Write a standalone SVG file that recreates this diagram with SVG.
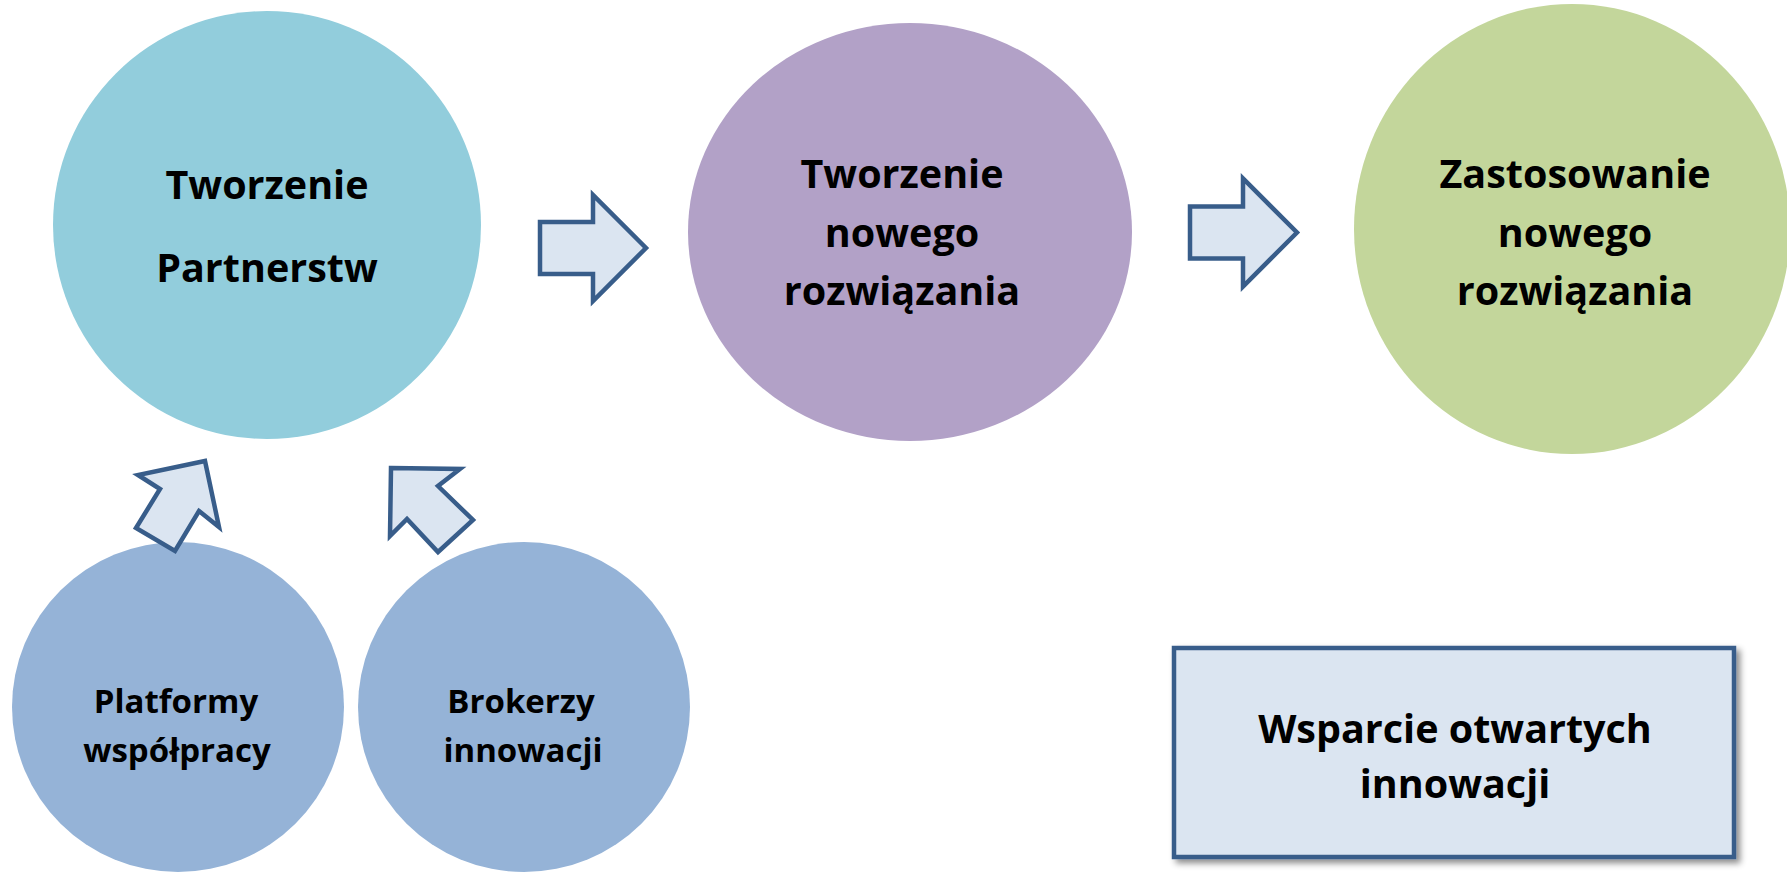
<svg xmlns="http://www.w3.org/2000/svg" width="1787" height="872" viewBox="0 0 1787 872">
<style>
.t{font-family:"Open Sans","Liberation Sans",sans-serif;font-weight:700;fill:#000;text-anchor:middle}
.big{font-size:39.5px}
.sm{font-size:33px}
.bx{font-size:39.5px}
.arr{fill:#dbe5f1;stroke:#385d8a;stroke-width:4.5;stroke-linejoin:miter}
</style>
<defs>
<filter id="sh" x="-10%" y="-10%" width="130%" height="130%">
<feDropShadow dx="4" dy="4" stdDeviation="3" flood-color="#000" flood-opacity="0.45"/>
</filter>
</defs>
<rect width="1787" height="872" fill="#fff"/>
<g id="n1">
<ellipse cx="267" cy="225" rx="214" ry="214" fill="#92cddc"/>
<text class="t big" x="267" y="199">Tworzenie</text>
<text class="t big" x="267" y="282">Partnerstw</text>
</g>
<g id="n2">
<ellipse cx="910" cy="232" rx="222" ry="209" fill="#b2a1c7"/>
<text class="t big" x="902" y="188">Tworzenie</text>
<text class="t big" x="902" y="247">nowego</text>
<text class="t big" x="902" y="305">rozwiązania</text>
</g>
<g id="n3">
<ellipse cx="1572" cy="229" rx="218" ry="225" fill="#c3d69b"/>
<text class="t big" x="1575" y="188">Zastosowanie</text>
<text class="t big" x="1575" y="247">nowego</text>
<text class="t big" x="1575" y="305">rozwiązania</text>
</g>
<g id="n4">
<ellipse cx="178" cy="707" rx="166" ry="165" fill="#95b3d7"/>
<text class="t sm" x="176" y="713">Platformy</text>
<text class="t sm" x="177" y="762">współpracy</text>
</g>
<g id="n5">
<ellipse cx="524" cy="707" rx="166" ry="165" fill="#95b3d7"/>
<text class="t sm" x="521" y="713">Brokerzy</text>
<text class="t sm" x="523" y="762">innowacji</text>
</g>
<g id="n6">
<rect x="1174" y="648" width="560" height="209" fill="#dbe5f1" stroke="#385d8a" stroke-width="4.5" filter="url(#sh)"/>
<text class="t bx" x="1455" y="743">Wsparcie otwartych</text>
<text class="t bx" x="1455" y="798">innowacji</text>
</g>
<g id="connectors">
<polygon class="arr" points="540,222 593,222 593,195 646,248 593,301 593,274 540,274"/>
<polygon class="arr" points="1190,206.5 1243,206.5 1243,178.5 1297,232.5 1243,286.5 1243,258.5 1190,258.5"/>
<polygon class="arr" points="205,461 219,527 199,511 175,551 136,528 160,489 138,475"/>
<polygon class="arr" points="391,468 460,469 438,486 473,520 438,552 407,519 390,536"/>
</g>
</svg>
